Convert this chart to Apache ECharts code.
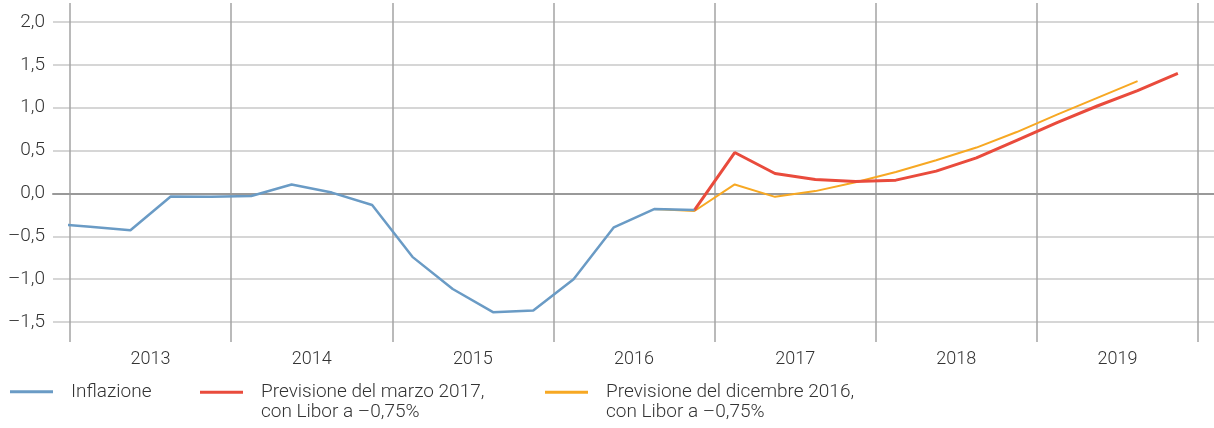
<!DOCTYPE html>
<html lang="it">
<head>
    <meta charset="UTF-8">
    <title>Inflazione e previsioni</title>
    <script src="https://cdn.jsdelivr.net/npm/echarts@6/dist/echarts.min.js"></script>
    <style>
        html, body { margin: 0; padding: 0; background: #fff; }
        #main { width: 1214px; height: 428px; }
    </style>
</head>
<body>
<div id="main"></div>
<script>
    // anni sull'asse x (ogni anno = 4 trimestri)
    var years = ['2013', '2014', '2015', '2016', '2017', '2018', '2019'];
    var yTicks = [-1.5, -1.0, -0.5, 0.0, 0.5, 1.0, 1.5, 2.0];

    // Inflazione, dal T4 2012 al T4 2016
    var inflStart = -1;
    var inflazione = [-0.35, -0.39, -0.43, -0.035, -0.04, -0.03, 0.105, 0.01, -0.135,
        -0.74, -1.115, -1.385, -1.365, -1.0, -0.395, -0.183, -0.194];

    // Previsione del marzo 2017, dal T4 2016 al T4 2019
    var marzoStart = 15;
    var marzo2017 = [-0.194, 0.477, 0.233, 0.163, 0.14, 0.155, 0.26, 0.415, 0.62,
        0.825, 1.02, 1.2, 1.40];

    // Previsione del dicembre 2016, dal T3 2016 al T3 2019
    var dicStart = 14;
    var dicembre2016 = [-0.183, -0.205, 0.105, -0.04, 0.027, 0.13, 0.25, 0.387, 0.535,
        0.716, 0.92, 1.115, 1.31];

    var nomi = ['Inflazione', 'Previsione del marzo 2017,\ncon Libor a \u20130,75%',
        'Previsione del dicembre 2016,\ncon Libor a \u20130,75%'];

    function toPoints(start, values) {
        return values.map(function (v, i) {
            return [start + i + 0.5, v];
        });
    }

    // area delle righe orizzontali: 2,0 a y=22, -1,5 a y=322
    var pxPerUnit = 300 / 3.5;
    var yMax = 2 + (22 - 3) / pxPerUnit;
    var yMin = -1.5 - (342 - 322) / pxPerUnit;

    var font = 'Roboto, "Open Sans", sans-serif';
    var textCol = '#333';

    function fmt(v) {
        return v.toFixed(1).replace('.', ',').replace('-', '\u2013');
    }

    function legendFor(i, left, top, multi) {
        return {
            data: [nomi[i]],
            left: left,
            top: top,
            padding: 0,
            icon: 'rect',
            itemWidth: 43,
            itemHeight: 3,
            selectedMode: false,
            // riga vuota sopra: l'icona resta centrata sulla prima riga del testo
            formatter: function (name) {
                return multi ? '\u00a0\n' + name : name;
            },
            textStyle: {
                fontFamily: font,
                fontSize: 19,
                fontWeight: 300,
                color: textCol,
                lineHeight: 19.5,
                padding: [2, 0, 0, 13]
            }
        };
    }

    var myChart = echarts.init(document.getElementById('main'));
    var option = {
        animation: false,
        grid: [
            {left: 53, right: 0, top: 22, bottom: 106},
            {left: 70, right: 16, top: 3, bottom: 86}
        ],
        legend: [
            legendFor(0, 10, 381, false),
            legendFor(1, 200, 362, true),
            legendFor(2, 545, 362, true)
        ],
        xAxis: [
            {
                gridIndex: 0, type: 'value', min: 0, max: 1,
                axisLine: {show: true, onZero: true, lineStyle: {color: '#999', width: 2}},
                axisTick: {show: false}, axisLabel: {show: false}, splitLine: {show: false}
            },
            {
                gridIndex: 1, type: 'category', data: years, boundaryGap: true,
                axisLine: {show: false}, axisTick: {show: false},
                axisLabel: {interval: 0, margin: 8, fontFamily: font, fontSize: 18, fontWeight: 300, color: textCol},
                splitLine: {show: true, interval: 0, lineStyle: {color: '#a3a3a3', width: 1.5}}
            },
            {
                gridIndex: 1, type: 'value', min: 0, max: years.length * 4, show: false
            }
        ],
        yAxis: [
            {
                gridIndex: 0, type: 'value', min: yTicks[0], max: yTicks[yTicks.length - 1], interval: 0.5,
                axisLine: {show: false}, axisTick: {show: false},
                axisLabel: {margin: 8, formatter: fmt, fontFamily: font, fontSize: 19, fontWeight: 300, color: textCol},
                splitLine: {lineStyle: {color: '#c9c9c9', width: 1.5}}
            },
            {
                gridIndex: 1, type: 'value', min: yMin, max: yMax, show: false
            }
        ],
        series: [
            {
                name: nomi[2], type: 'line', xAxisIndex: 2, yAxisIndex: 1,
                data: toPoints(dicStart, dicembre2016), symbol: 'none',
                color: '#f7a823', lineStyle: {width: 2, color: '#f7a823'}
            },
            {
                name: nomi[1], type: 'line', xAxisIndex: 2, yAxisIndex: 1,
                data: toPoints(marzoStart, marzo2017), symbol: 'none',
                color: '#e94b3c', lineStyle: {width: 3, color: '#e94b3c'}
            },
            {
                name: nomi[0], type: 'line', xAxisIndex: 2, yAxisIndex: 1,
                data: toPoints(inflStart, inflazione), symbol: 'none', clip: true,
                color: '#6a9bc5', lineStyle: {width: 2.5, color: '#6a9bc5'}
            }
        ]
    };
    myChart.setOption(option);
</script>
</body>
</html>
